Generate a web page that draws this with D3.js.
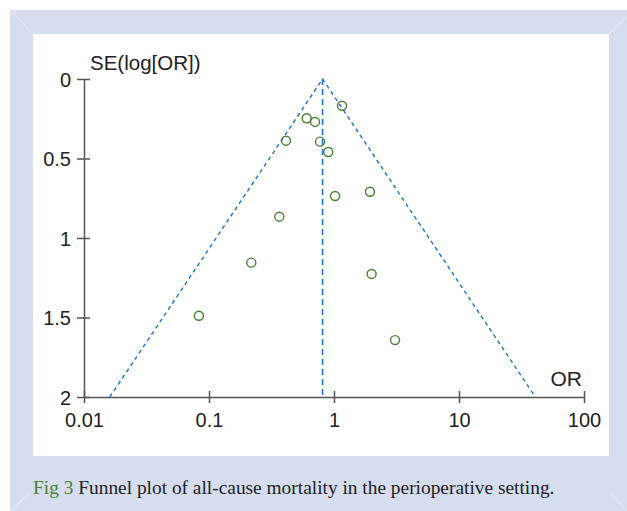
<!DOCTYPE html>
<html>
<head>
<meta charset="utf-8">
<script src="https://cdn.jsdelivr.net/npm/d3@7"></script>
<style>
  body { margin: 0; background: #fff; }
  svg { display: block; }
</style>
</head>
<body>
<div id="chart"></div>
<script>
// study estimates
var orValues = [1.16, 0.605, 0.705, 0.413, 0.773, 0.90, 1.02, 1.94, 0.365, 0.218, 2.00, 0.083, 3.08]
var seValues = [0.168, 0.247, 0.270, 0.388, 0.394, 0.459, 0.736, 0.709, 0.866, 1.155, 1.226, 1.489, 1.642]
var pooledOR = 0.81
var xTicks = [0.01, 0.1, 1, 10, 100]
var yTicks = [0, 0.5, 1, 1.5, 2]
var xTickLabels = ["0.01", "0.1", "1", "10", "100"]
var yTickLabels = ["0", "0.5", "1", "1.5", "2"]

var width = 627, height = 511

var svg = d3.select("#chart").append("svg")
    .attr("width", width)
    .attr("height", height)

// frame
svg.append("rect").attr("x", 10).attr("y", 10).attr("width", 617).attr("height", 501).attr("fill", "#d5ddef")
svg.append("rect").attr("x", 33).attr("y", 34).attr("width", 576).attr("height", 422).attr("fill", "#fff")
var bevel = [[10, 10, 33, 34], [627, 16, 609, 34], [10, 511, 30, 493], [627, 511, 610, 493]]
svg.selectAll(".bevel").data(bevel).enter().append("line")
    .attr("x1", function(d) { return d[0] }).attr("y1", function(d) { return d[1] })
    .attr("x2", function(d) { return d[2] }).attr("y2", function(d) { return d[3] })
    .attr("stroke", "#e6ebf6").attr("stroke-width", 1)

var x = d3.scaleLog().domain([0.01, 100]).range([84, 584])
var y = d3.scaleLinear().domain([0, 2]).range([79, 397])

// y axis
var yAxis = svg.append("g")
    .attr("transform", "translate(" + x(0.01) + ",0)")
    .call(d3.axisLeft(y).tickValues(yTicks).tickSizeOuter(0).tickSizeInner(7).tickPadding(6)
        .tickFormat(function(d, i) { return yTickLabels[i] }))
yAxis.selectAll(".tick line").attr("x1", 6)
yAxis.selectAll(".tick text").attr("dy", "0.36em")

// x axis
var xAxis = svg.append("g")
    .attr("transform", "translate(0," + y(2) + ")")
    .call(d3.axisBottom(x).tickValues(xTicks).tickSizeOuter(0).tickSizeInner(6).tickPadding(10)
        .tickFormat(function(d, i) { return xTickLabels[i] }))
xAxis.selectAll(".tick line").attr("y1", -6)

svg.selectAll(".domain, .tick line").attr("stroke", "#555").attr("stroke-width", 1.5)
svg.selectAll(".tick text")
    .attr("font-family", "Liberation Sans, Arial, sans-serif")
    .attr("font-size", 20)
    .attr("fill", "#222")

svg.append("text")
    .attr("x", 90).attr("y", 70)
    .attr("font-family", "Liberation Sans, Arial, sans-serif").attr("font-size", 20.5).attr("fill", "#222")
    .text("SE(log[OR])")
svg.append("text")
    .attr("x", 582).attr("y", 386).attr("text-anchor", "end")
    .attr("font-family", "Liberation Sans, Arial, sans-serif").attr("font-size", 21).attr("fill", "#222")
    .text("OR")

// funnel (95% limits around the pooled estimate)
var funnel = [
    {or: pooledOR * Math.exp(-1.96 * 2), se: 2},
    {or: pooledOR, se: 0},
    {or: pooledOR * Math.exp(1.96 * 2), se: 2}
]
var line = d3.line()
    .x(function(d) { return x(d.or) })
    .y(function(d) { return y(d.se) })
svg.append("path")
    .datum(funnel)
    .attr("d", line)
    .attr("fill", "none")
    .attr("stroke", "#1f74c4")
    .attr("stroke-width", 1.4)
    .attr("stroke-dasharray", "4,3.5")
svg.append("path")
    .datum([{or: pooledOR, se: 0}, {or: pooledOR, se: 2}])
    .attr("d", line)
    .attr("fill", "none")
    .attr("stroke", "#1f74c4")
    .attr("stroke-width", 1.6)
    .attr("stroke-dasharray", "6,4")

var points = orValues.map(function(d, i) { return {or: d, se: seValues[i]} })
svg.selectAll(".pt").data(points).enter().append("circle")
    .attr("class", "pt")
    .attr("cx", function(d) { return x(d.or) })
    .attr("cy", function(d) { return y(d.se) })
    .attr("r", 4.5)
    .attr("fill", "none")
    .attr("stroke", "#4b7f31")
    .attr("stroke-width", 1.4)

// caption
var cap = svg.append("text")
    .attr("x", 33).attr("y", 494)
    .attr("font-family", "Liberation Serif, serif").attr("font-size", 16).attr("fill", "#222")
cap.append("tspan").attr("fill", "#4b7f31").text("Fig 3")
cap.append("tspan").text(" Funnel plot of all-cause mortality in the perioperative setting.")
var w = cap.node().getComputedTextLength()
cap.attr("font-size", 16 * 522 / w)
</script>
</body>
</html>
